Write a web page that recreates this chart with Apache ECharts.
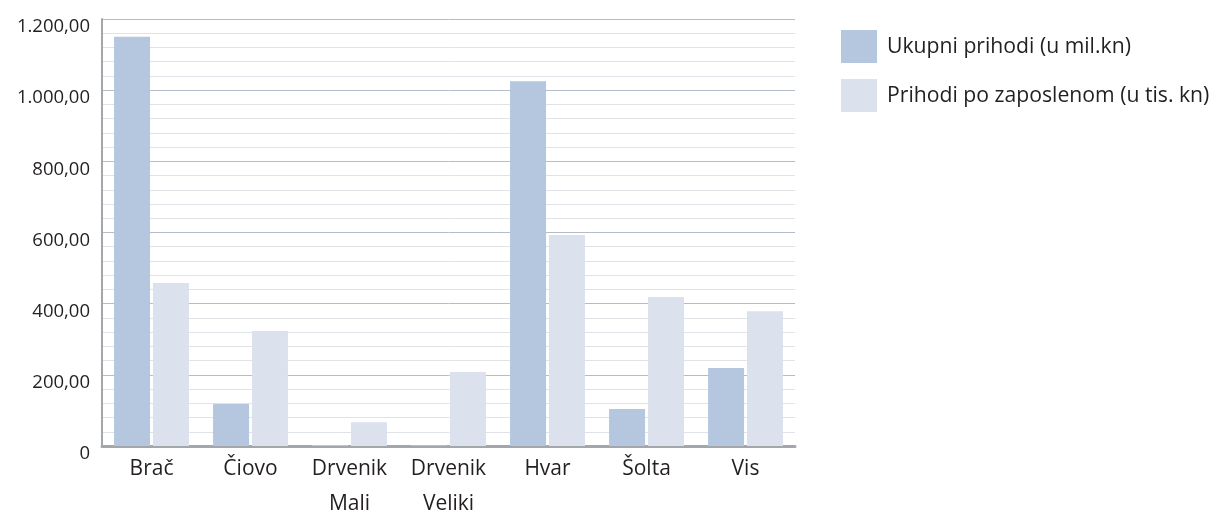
<!DOCTYPE html>
<html><head><meta charset="utf-8">
<script src="https://cdn.jsdelivr.net/npm/echarts@6/dist/echarts.min.js"></script>
<style>html,body{margin:0;padding:0;background:#fff}#c{width:1217px;height:513px}</style>
</head><body><div id="c"></div>
<script>
const categories = ["Brač", "Čiovo", "Drvenik Mali", "Drvenik Veliki", "Hvar", "Šolta", "Vis"];
const ukupniPrihodi = [1150, 118, 3, 2, 1025, 104, 219];
const prihodiPoZaposlenom = [458, 323, 67, 208, 593, 419, 379];
const seriesNames = ["Ukupni prihodi (u mil.kn)", "Prihodi po zaposlenom (u tis. kn)"];

const fontFamily = "'Open Sans', 'Noto Sans', sans-serif";
function fmt(v){
  if (v === 0) return "0";
  const s = Math.round(v).toString().replace(/\B(?=(\d{3})+(?!\d))/g, ".");
  return s + ",00";
}
const chart = echarts.init(document.getElementById('c'), null, {renderer:'canvas'});
chart.setOption({
  animation:false,
  textStyle:{fontFamily},
  grid:{left:102, right:422, top:19, bottom:67, containLabel:false, outerBoundsMode:'none'},
  legend:{
    orient:'vertical', left:836, top:25, itemWidth:36, itemHeight:33, itemGap:16,
    icon:'rect', selectedMode:false,
    textStyle:{fontSize:21.2, color:'#231f20', fontFamily, padding:[0,0,0,5]},
    data:seriesNames
  },
  xAxis:{
    type:'category', data:categories,
    axisLine:{show:true, lineStyle:{color:'#a3a7ab', width:3}},
    axisTick:{show:false},
    axisLabel:{interval:0, fontSize:21, color:'#231f20', lineHeight:35, margin:5.5,
      formatter:v=>v.replace(' ', '\n')}
  },
  yAxis:{
    type:'value', min:0, max:1200, interval:200,
    axisLine:{show:true, lineStyle:{color:'#a3a7ab', width:2}},
    axisTick:{show:false},
    axisLabel:{fontSize:18.5, color:'#231f20', margin:12, formatter:fmt, verticalAlign:'top', lineHeight:16},
    splitLine:{show:true, lineStyle:{color:'#b4bcc8', width:1}},
    minorTick:{show:false, splitNumber:5},
    minorSplitLine:{show:true, lineStyle:{color:'#dfe3e8', width:1}}
  },
  series:[
    {name:seriesNames[0], type:'bar', data:ukupniPrihodi, barWidth:36, barGap:'8%',
      itemStyle:{color:'#b4c7df'}},
    {name:seriesNames[1], type:'bar', data:prihodiPoZaposlenom, barWidth:36,
      itemStyle:{color:'#dbe2ed'}}
  ]
});
</script></body></html>
